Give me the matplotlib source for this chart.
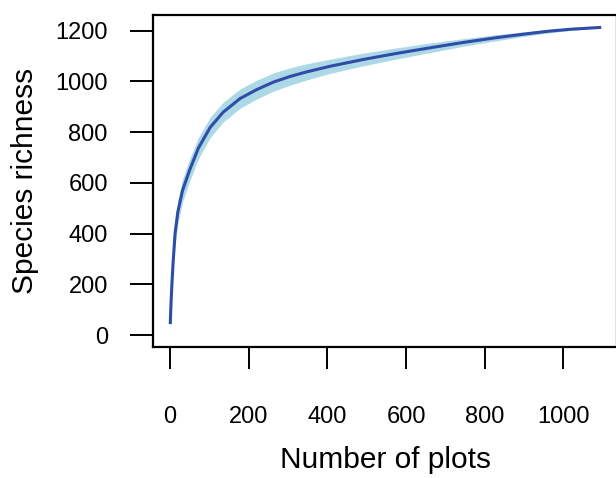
import matplotlib
matplotlib.use('Agg')
from matplotlib import pyplot as plt
import numpy as np

plt.rcParams['font.family'] = ['Liberation Sans', 'DejaVu Sans']

# 样地数与物种累积
plots = [1, 2, 3, 5, 8, 13, 20, 32, 50, 72, 102, 135, 178, 220, 263, 305,
         347, 406, 491, 576, 661, 745, 830, 900, 960, 1017, 1060, 1092]
richness = [50, 95, 135, 200, 285, 400, 485, 570, 650, 736, 818, 878, 932,
            967, 997, 1019, 1037, 1059, 1086, 1110, 1132, 1153, 1172, 1186,
            1197, 1205, 1209, 1212]
spread = [40, 42, 44, 45, 46, 46, 46, 45, 44, 42, 40, 39, 38, 37, 36, 34,
          32, 28, 25, 22, 19, 15, 12, 9, 7, 5, 3, 0]

x_ticks = [0, 200, 400, 600, 800, 1000]
y_ticks = [0, 200, 400, 600, 800, 1000, 1200]

fig = plt.figure(figsize=(6.16, 4.78), dpi=100)
ax = fig.add_axes([153 / 616, 1 - 346.7 / 478, 464 / 616, 331.4 / 478])

x = np.array(plots)
y = np.array(richness)
s = np.array(spread)
ax.fill_between(x, y - s, y + s, color='#ADD8E6', linewidth=0)
ax.plot(x, y, color='#2E4DA7', linewidth=2.2)

ax.set_xlim(-43, 1136)
ax.set_ylim(-45, 1260)

ax.set_xticks(x_ticks)
ax.set_yticks(y_ticks)
ax.tick_params(axis='x', direction='out', length=16, width=1.4, pad=27, labelsize=17)
ax.tick_params(axis='y', direction='out', length=16.5, width=1.4, pad=16, labelsize=17)
for sp in ax.spines.values():
    sp.set_linewidth(1.6)

ax.set_xlabel('Number of plots', fontsize=21.5)
ax.set_ylabel('Species richness', fontsize=21.5)
ax.xaxis.set_label_coords(0.5, -0.30)
ax.yaxis.set_label_coords(-0.245, 0.5)

plt.savefig('out.png', dpi=100)
